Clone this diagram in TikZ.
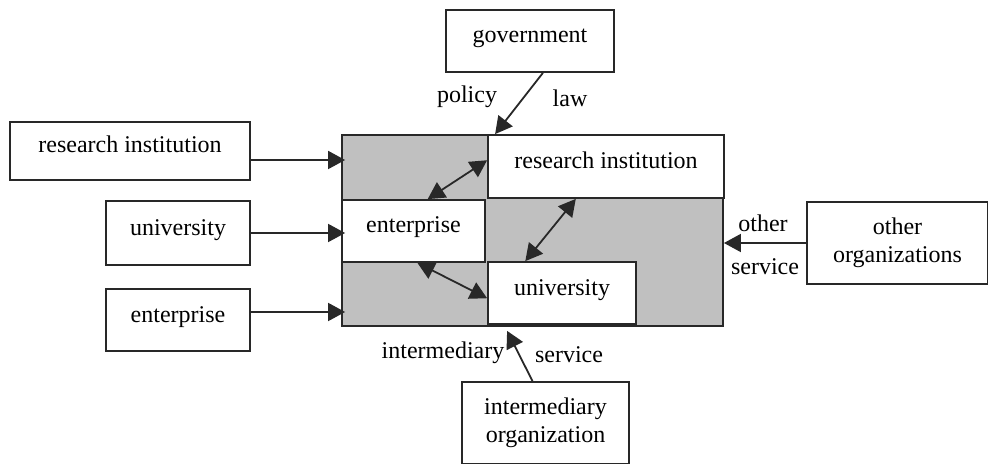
\documentclass[tikz,border=0pt]{standalone}
\usepackage{fontspec}
\setmainfont{Liberation Serif}
\usetikzlibrary{arrows.meta}
\usetikzlibrary{calc}
\definecolor{kern}{RGB}{192,192,192}
\definecolor{strich}{RGB}{40,40,40}

\begin{document}
\begin{tikzpicture}[x=0.5pt, y=-0.5pt, line width=0.9pt, strich,
    font=\fontsize{12}{14}\selectfont,
    unit/.style={draw, fill=white, inner sep=0pt, text height=8.5pt, text depth=6.5pt, text=black},
    unit2/.style={draw, fill=white, inner sep=0pt, align=center, text=black},
    flow/.style={-{Triangle[length=8.5pt,width=9pt]}},
    both/.style={{Triangle[length=8.5pt,width=9pt]}-{Triangle[length=8.5pt,width=9pt]}},
    lbl/.style={text=black, inner sep=0pt}]

    \useasboundingbox (0,0) rectangle (988,464);

    % core with the three partners
    \node[draw, fill=kern, minimum width=190.5pt, minimum height=95.5pt, inner sep=0pt] (core) at (532.5,230.5) {};
    \node[unit, minimum width=118pt, minimum height=31.5pt] (ri) at (606,166.5) {research institution};
    \node[unit, minimum width=71.5pt, minimum height=31pt] (ent) at (413.5,231) {enterprise};
    \node[unit, minimum width=74pt, minimum height=31pt] (uni) at (562,293) {university};

    % outside
    \node[unit, minimum width=120pt, minimum height=29pt] (lri) at (130,151) {research institution};
    \node[unit, minimum width=72pt, minimum height=32pt] (luni) at (178,233) {university};
    \node[unit, minimum width=72pt, minimum height=31pt] (lent) at (178,320) {enterprise};
    \node[unit, minimum width=84pt, minimum height=31pt] (gov) at (530,41) {government};
    \node[unit2, minimum width=90.5pt, minimum height=41pt] (oo) at (897.5,243) {other\\organizations};
    \node[unit2, minimum width=83.5pt, minimum height=41pt] (io) at (545.5,423) {intermediary\\organization};

    \draw[flow] (lri.east |- 0,160) -- ($(core.west |- 0,160)+(4,0)$);
    \draw[flow] (luni.east) -- ($(core.west |- luni.east)+(4,0)$);
    \draw[flow] (lent.east |- 0,312) -- ($(core.west |- 0,312)+(4,0)$);

    \draw[both] (ent.66) -- (ri.177);
    \draw[both] (ent.277) -- (uni.184);
    \draw[both] (ri.227) -- (uni.139);

    \draw[flow] (gov.292) -- ($(ri.north west)+(8,0)$);
    \draw[flow] (oo.west) -- (core.east |- oo.west);
    \draw[flow] ($(io.north)+(-13,0)$) -- ($(uni.south west)+(20,6)$);

    \node[lbl] (policy) at (467,97) {policy};
    \node[lbl] (law) at (570,98) {law};
    \node[lbl] (interm) at (443,353) {intermediary};
    \node[lbl] (service1) at (569,355) {service};
    \node[lbl] (other) at (763,223) {other};
    \node[lbl] (service2) at (765,267) {service};

\end{tikzpicture}
\end{document}
